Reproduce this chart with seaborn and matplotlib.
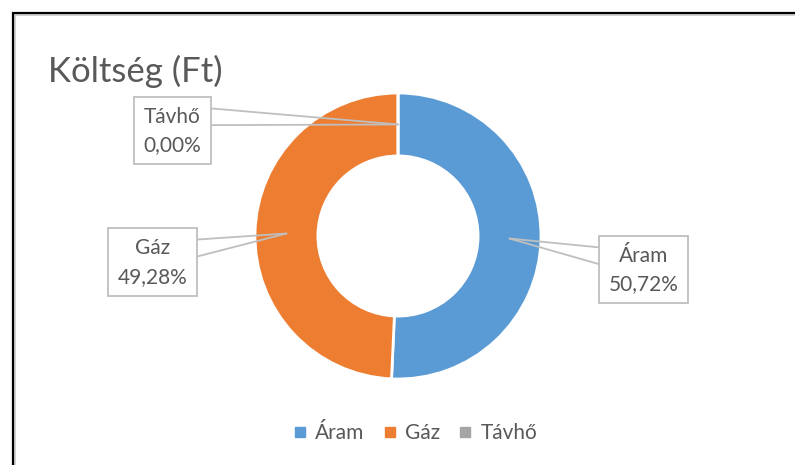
import numpy as np
import matplotlib
matplotlib.use("Agg")
import matplotlib.pyplot as plt
import seaborn as sns
from matplotlib.patches import Rectangle
from matplotlib.lines import Line2D

# chart data
categories = ["Áram", "Gáz", "Távhő"]
shares = [50.72, 49.28, 0.00]
colors = ["#5B9BD5", "#ED7D31", "#A5A5A5"]
title = "Költség (Ft)"

sns.set_theme(style="white")
plt.rcParams["font.family"] = ["Lato", "DejaVu Sans"]

W, H = 795, 465
fig = plt.figure(figsize=(W / 100, H / 100), dpi=100)
fig.patch.set_facecolor("white")

def px(x, y):
    # pixel position (from top-left) -> figure fraction
    return x / W, 1 - y / H

# outer frame (top and left edges visible)
fig.patches.append(Rectangle(px(14, 600), 900 / W, 586 / H, transform=fig.transFigure,
                             fill=False, edgecolor="#D0D0D0", lw=2.8, zorder=0))
fig.patches.append(Rectangle(px(13, 600), 900 / W, 587 / H, transform=fig.transFigure,
                             fill=False, edgecolor="black", lw=1.6, zorder=0))

# donut
cx, cy, R = 398, 236, 143
left, bottom = px(cx - R, cy + R)
ax = fig.add_axes([left, bottom, 2 * R / W, 2 * R / H])
hole = 0.56
wedges, _ = ax.pie(shares, colors=colors, startangle=90, counterclock=False,
                   wedgeprops=dict(width=1 - hole, edgecolor="white", linewidth=2))
ax.set_xlim(-1, 1)
ax.set_ylim(-1, 1)
ax.set_axis_off()

fig.text(*px(48, 71), title, fontsize=25, color="#595959", ha="left", va="center")

# callout boxes: (left, top, right, bottom) in pixels, leader side
boxes = {
    "Áram": ((599, 236, 688, 303), "left"),
    "Gáz": ((108, 228, 197, 296), "right"),
    "Távhő": ((134, 97, 211, 164), "right"),
}

total = sum(shares)
start = 0.0
inv = fig.transFigure.inverted()
for cat, val in zip(categories, shares):
    mid = start + val / 2
    start += val
    ang = np.deg2rad(90 - mid / total * 360)
    rr = (1 + hole) / 2
    anchor = inv.transform(ax.transData.transform((rr * np.cos(ang), rr * np.sin(ang))))
    (l, t, r, b), side = boxes[cat]
    hgt = b - t
    ex = l if side == "left" else r
    for fy in (0.17, 0.42):
        p = px(ex, t + fy * hgt)
        fig.lines.append(Line2D([p[0], anchor[0]], [p[1], anchor[1]],
                                transform=fig.transFigure, color="#BFBFBF", lw=1.3))
    fig.patches.append(Rectangle(px(l, b), (r - l) / W, hgt / H, transform=fig.transFigure,
                                 facecolor="white", edgecolor="#BFBFBF", lw=1.3, zorder=3))
    pct = f"{val:.2f}".replace(".", ",") + "%"
    xc = (l + r) / 2
    fig.text(*px(xc, t + 0.30 * hgt), cat, fontsize=15, color="#595959",
             ha="center", va="center", zorder=4)
    fig.text(*px(xc, t + 0.72 * hgt), pct, fontsize=15, color="#595959",
             ha="center", va="center", zorder=4)

# legend
handles = [plt.Line2D([], [], marker="s", linestyle="", markersize=7.5,
                      markerfacecolor=c, markeredgecolor=c) for c in colors]
fig.legend(handles, categories, loc="center", bbox_to_anchor=px(414, 433),
           ncol=3, frameon=False, fontsize=15, labelcolor="#595959",
           handletextpad=0.3, columnspacing=0.75, handlelength=0.9)

fig.savefig("out.png", dpi=100, facecolor="white")
